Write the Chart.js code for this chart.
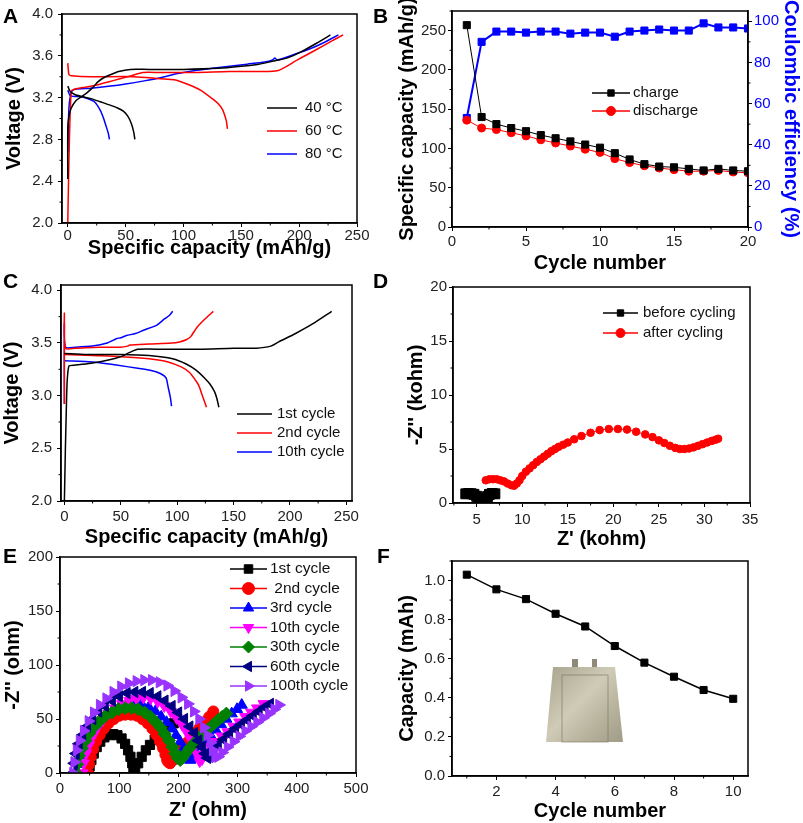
<!DOCTYPE html>
<html>
<head>
<meta charset="utf-8">
<script src="https://cdn.jsdelivr.net/npm/chart.js@4.4.1/dist/chart.umd.min.js"></script>
<style>
html, body { margin: 0; background: #fff; overflow: hidden; }
body { width: 803px; height: 823px; position: relative; }
canvas { position: absolute; }
.tag { position: absolute; font: bold 21px "Liberation Sans", Arial, sans-serif; color: #000; line-height: 24px; }
</style>
</head>
<body>
<canvas id="cA" width="375" height="262" style="left:0;top:0"></canvas>
<canvas id="cB" width="413" height="277" style="left:390px;top:0"></canvas>
<canvas id="cC" width="375" height="281" style="left:0;top:270px"></canvas>
<canvas id="cD" width="413" height="283" style="left:390px;top:270px"></canvas>
<canvas id="cE" width="375" height="278" style="left:0;top:545px"></canvas>
<canvas id="cF" width="413" height="278" style="left:390px;top:545px"></canvas>
<div class="tag" style="left:3px;top:4px">A</div>
<div class="tag" style="left:373px;top:4px">B</div>
<div class="tag" style="left:3px;top:269px">C</div>
<div class="tag" style="left:373px;top:269px">D</div>
<div class="tag" style="left:3px;top:544px">E</div>
<div class="tag" style="left:377px;top:544px">F</div>
<script>
// ---- A: charge/discharge at three temperatures ----
const capA40c = [0, 0, 1, 3, 7, 12, 17, 22, 26, 31, 37, 44, 54, 70, 100, 130, 150, 165, 178, 190, 202, 215, 227];
const vA40c = [2.42, 2.90, 3.02, 3.10, 3.17, 3.21, 3.25, 3.30, 3.35, 3.39, 3.42, 3.45, 3.47, 3.47, 3.47, 3.48, 3.50, 3.52, 3.55, 3.58, 3.64, 3.72, 3.80];
const capA40d = [0, 2, 6, 12, 20, 28, 36, 43, 48, 52, 55, 57, 58];
const vA40d = [3.31, 3.26, 3.23, 3.21, 3.19, 3.16, 3.13, 3.10, 3.07, 3.02, 2.95, 2.87, 2.80];
const capA60c = [0, 1, 3, 6, 15, 25, 35, 45, 55, 65, 80, 110, 140, 170, 182, 186, 200, 215, 228, 238];
const vA60c = [2.00, 2.60, 3.26, 3.28, 3.30, 3.32, 3.35, 3.38, 3.41, 3.44, 3.44, 3.44, 3.45, 3.45, 3.46, 3.48, 3.57, 3.66, 3.74, 3.80];
const capA60d = [0, 1, 3, 20, 57, 80, 92, 103, 115, 126, 131, 134, 137, 138];
const vA60d = [3.53, 3.42, 3.41, 3.40, 3.40, 3.38, 3.37, 3.33, 3.27, 3.18, 3.13, 3.08, 2.98, 2.90];
const capA80c = [0, 1, 3, 6, 20, 37, 50, 66, 80, 95, 110, 125, 140, 155, 170, 177, 179, 181, 195, 210, 222, 234];
const vA80c = [2.68, 3.10, 3.25, 3.28, 3.29, 3.31, 3.33, 3.36, 3.39, 3.43, 3.46, 3.48, 3.50, 3.52, 3.54, 3.56, 3.58, 3.56, 3.61, 3.67, 3.73, 3.80];
const capA80d = [0, 2, 6, 11, 17, 23, 28, 31, 33, 35, 36];
const vA80d = [3.27, 3.22, 3.21, 3.21, 3.19, 3.16, 3.08, 3.00, 2.93, 2.86, 2.80];
const legendA = ['40 °C', '60 °C', '80 °C'];
const ticksAx = [0, 50, 100, 150, 200, 250];
const ticksAy = [2.0, 2.4, 2.8, 3.2, 3.6, 4.0];

// ---- B: cycling ----
const cycleB = [1, 2, 3, 4, 5, 6, 7, 8, 9, 10, 11, 12, 13, 14, 15, 16, 17, 18, 19, 20];
const chargeB = [257, 140, 131, 126, 122, 117, 113, 109, 105, 101, 94, 86, 80, 77, 76, 74, 72, 74, 72, 71];
const dischargeB = [136, 126, 124, 120, 116, 111, 107, 103, 99, 95, 87, 82, 78, 75, 73, 71, 71, 72, 70, 69];
const ceB = [53, 90, 95, 95, 94.5, 95, 95, 94, 94.5, 94.5, 92.5, 95, 95.5, 96, 95.5, 95.5, 99, 97, 97, 96.5];
const legendB = ['charge', 'discharge'];
const ticksBx = [0, 5, 10, 15, 20];
const ticksBy = [0, 50, 100, 150, 200, 250];
const ticksBy2 = [0, 20, 40, 60, 80, 100];

// ---- C: 1st / 2nd / 10th cycle ----
const capC1c = [0, 2, 4, 10, 25, 40, 50, 58, 65, 90, 120, 150, 170, 183, 190, 205, 220, 237];
const vC1c = [2.00, 3.00, 3.28, 3.29, 3.31, 3.34, 3.37, 3.41, 3.44, 3.44, 3.44, 3.45, 3.45, 3.47, 3.51, 3.59, 3.68, 3.80];
const capC1d = [0, 20, 50, 75, 96, 108, 117, 124, 129, 133, 135, 137];
const vC1d = [3.40, 3.39, 3.39, 3.38, 3.35, 3.30, 3.24, 3.17, 3.11, 3.04, 2.98, 2.89];
const capC2c = [0, 0, 1, 10, 30, 50, 56, 58, 75, 95, 102, 108, 112, 117, 123, 128, 132];
const vC2c = [2.92, 3.78, 3.45, 3.45, 3.46, 3.46, 3.47, 3.48, 3.49, 3.50, 3.51, 3.53, 3.56, 3.64, 3.71, 3.76, 3.80];
const capC2d = [0, 25, 50, 75, 92, 104, 111, 116, 119, 123, 126];
const vC2d = [3.39, 3.38, 3.37, 3.35, 3.32, 3.27, 3.22, 3.15, 3.10, 2.98, 2.89];
const capC10c = [0, 0, 1, 10, 25, 38, 46, 50, 55, 63, 70, 82, 89, 93, 96];
const vC10c = [2.92, 3.68, 3.46, 3.46, 3.47, 3.50, 3.54, 3.55, 3.57, 3.59, 3.62, 3.67, 3.73, 3.76, 3.80];
const capC10d = [0, 25, 46, 65, 76, 85, 90, 92, 94, 95];
const vC10d = [3.33, 3.32, 3.29, 3.26, 3.24, 3.21, 3.17, 3.08, 2.98, 2.90];
const legendC = ['1st cycle', '2nd cycle', '10th cycle'];
const ticksCx = [0, 50, 100, 150, 200, 250];
const ticksCy = [2.0, 2.5, 3.0, 3.5, 4.0];

// ---- D: impedance before / after cycling (kohm) ----
const zReD0 = [3.8, 4.1, 4.4, 4.7, 5.0, 5.2, 5.4, 5.6, 5.8, 6.0, 6.2, 6.4, 6.7, 7.0];
const zImD0 = [0.85, 0.88, 0.86, 0.80, 0.62, 0.40, 0.18, 0.08, 0.15, 0.35, 0.60, 0.80, 0.88, 0.85];
const zReD1 = [6.0, 6.4, 6.8, 7.2, 7.6, 8.0, 8.4, 8.8, 9.1, 9.4, 9.7, 10.0, 10.4, 10.8, 11.2, 11.6, 12.0, 12.4, 12.8, 13.2, 13.6, 14.0, 14.5, 15.0, 15.7, 16.5, 17.5, 18.5, 19.5, 20.5, 21.5, 22.5, 23.5, 24.3, 25.0, 25.6, 26.2, 26.8, 27.3, 27.8, 28.3, 28.8, 29.3, 29.8, 30.3, 30.8, 31.2, 31.5];
const zImD1 = [2.1, 2.2, 2.2, 2.2, 2.1, 2.0, 1.8, 1.65, 1.6, 1.8, 2.1, 2.5, 2.9, 3.2, 3.5, 3.8, 4.05, 4.3, 4.55, 4.8, 5.0, 5.2, 5.4, 5.6, 5.9, 6.2, 6.5, 6.75, 6.85, 6.85, 6.8, 6.6, 6.35, 6.1, 5.8, 5.55, 5.3, 5.1, 5.0, 5.0, 5.05, 5.15, 5.3, 5.45, 5.6, 5.75, 5.85, 5.95];
const legendD = ['before cycling', 'after cycling'];
const ticksDx = [5, 10, 15, 20, 25, 30, 35];
const ticksDy = [0, 5, 10, 15, 20];

// ---- E: impedance over cycles (ohm) ----
const zReE1 = [48, 50, 53, 57, 62, 68, 75, 82, 90, 97, 104, 110, 115, 119, 122, 124, 127, 132, 138, 145, 152, 160, 168, 176, 184, 192];
const zImE1 = [0, 6, 12, 18, 24, 29, 33, 35, 36, 35, 32, 27, 21, 15, 9, 5, 5, 9, 15, 21, 26, 31, 35, 39, 43, 46];
const zReE2 = [47, 49, 52, 56, 61, 67, 74, 82, 91, 100, 110, 120, 130, 139, 148, 156, 163, 169, 174, 178, 181, 183, 186, 191, 197, 204, 212, 220, 228, 236, 244, 252, 259];
const zImE2 = [0, 8, 15, 22, 29, 35, 41, 46, 50, 53, 54, 54, 53, 50, 46, 41, 35, 29, 23, 17, 12, 10, 9, 12, 17, 22, 27, 32, 37, 42, 47, 52, 57];
const zReE3 = [30, 32, 35, 40, 46, 53, 61, 70, 80, 91, 102, 114, 126, 138, 150, 161, 171, 180, 189, 196, 203, 209, 213, 217, 220, 224, 230, 237, 245, 254, 263, 272, 281, 290, 299, 307];
const zImE3 = [0, 8, 16, 24, 32, 39, 45, 51, 56, 60, 63, 65, 65, 64, 61, 57, 52, 47, 41, 35, 29, 23, 18, 14, 12, 14, 19, 25, 30, 35, 40, 45, 50, 55, 59, 63];
const zReE10 = [38, 40, 44, 49, 55, 63, 72, 82, 93, 105, 117, 129, 141, 153, 165, 176, 187, 197, 206, 214, 221, 227, 232, 236, 240, 246, 254, 263, 273, 283, 293, 303, 313, 323, 333, 344];
const zImE10 = [0, 9, 18, 26, 34, 42, 49, 55, 60, 64, 67, 69, 70, 69, 66, 62, 57, 51, 45, 38, 31, 24, 17, 11, 13, 18, 24, 29, 34, 38, 43, 47, 52, 56, 60, 64];
const zReE30 = [27, 29, 32, 37, 43, 50, 58, 67, 77, 88, 99, 110, 121, 132, 143, 153, 162, 170, 177, 184, 190, 195, 199, 203, 207, 212, 219, 227, 235, 243, 251, 259, 267, 274, 281];
const zImE30 = [0, 8, 16, 23, 30, 37, 43, 48, 53, 56, 59, 60, 60, 59, 56, 52, 47, 42, 36, 30, 24, 18, 14, 12, 14, 18, 23, 28, 32, 37, 41, 45, 49, 52, 55];
const zReE60 = [22, 24, 27, 32, 38, 46, 55, 65, 76, 88, 100, 113, 126, 139, 152, 165, 177, 189, 200, 210, 219, 227, 234, 240, 245, 249, 253, 259, 267, 276, 286, 296, 306, 316, 326, 336, 346, 355];
const zImE60 = [0, 9, 18, 27, 35, 43, 50, 57, 62, 67, 71, 74, 75, 75, 74, 71, 67, 62, 56, 50, 43, 37, 30, 24, 18, 14, 15, 20, 26, 31, 36, 41, 45, 49, 53, 57, 61, 64];
const zReE100 = [22, 24, 28, 33, 40, 48, 57, 67, 78, 90, 103, 116, 129, 142, 155, 168, 181, 193, 205, 216, 226, 235, 243, 249, 254, 258, 262, 267, 274, 283, 293, 303, 313, 323, 333, 343, 353, 362, 370];
const zImE100 = [0, 10, 21, 30, 39, 48, 56, 63, 69, 75, 80, 83, 85, 86, 86, 84, 81, 76, 70, 64, 57, 50, 42, 35, 28, 21, 15, 15, 19, 24, 29, 34, 39, 43, 47, 51, 55, 59, 63];
const legendE = ['1st cycle', ' 2nd cycle', '3rd cycle', '10th cycle', '30th cycle', '60th cycle', '100th cycle'];
const ticksEx = [0, 100, 200, 300, 400, 500];
const ticksEy = [0, 50, 100, 150, 200];

// ---- F: pouch cell capacity ----
const cycleF = [1, 2, 3, 4, 5, 6, 7, 8, 9, 10];
const capF = [1.03, 0.955, 0.905, 0.83, 0.765, 0.665, 0.58, 0.508, 0.44, 0.395];
const ticksFx = [2, 4, 6, 8, 10];
const ticksFy = [0.0, 0.2, 0.4, 0.6, 0.8, 1.0];

const FONT = '"Liberation Sans", Arial, sans-serif';
Chart.defaults.font.family = FONT;
const RED = '#ff0000', BLUE = '#0000ff', BLACK = '#000000';
const MAGENTA = '#ff00ff', GREEN = '#008000', NAVY = '#000080', PURPLE = '#9933ff';

// box round the plot + minor ticks half way between labelled ones
const framePlugin = {
  id: 'frame',
  afterDraw(chart) {
    const { ctx, chartArea: a } = chart;
    ctx.save();
    ctx.strokeStyle = '#000';
    ctx.lineWidth = 1.5;
    ctx.strokeRect(a.left, a.top, a.right - a.left, a.bottom - a.top);
    ctx.lineWidth = 1;
    Object.values(chart.scales).forEach(s => {
      const t = s.ticks.map(k => k.value);
      if (t.length < 2) return;
      const step = t[1] - t[0];
      for (let v = t[0] - step / 2; v <= s.max + 1e-9; v += step) {
        if (v < s.min - 1e-9) continue;
        const p = s.getPixelForValue(v);
        ctx.beginPath();
        if (s.axis === 'x') { ctx.moveTo(p, a.bottom); ctx.lineTo(p, a.bottom + 2.5); }
        else if (s.position === 'right') { ctx.moveTo(a.right, p); ctx.lineTo(a.right + 2.5, p); }
        else { ctx.moveTo(a.left, p); ctx.lineTo(a.left - 2.5, p); }
        ctx.stroke();
      }
    });
    ctx.restore();
  }
};

// legend drawn inside the plot area
const keyPlugin = {
  id: 'keys',
  afterDraw(chart, args, o) {
    if (!o.labels) return;
    const { ctx, chartArea: a } = chart;
    const sets = chart.data.datasets.filter(d => d.key);
    ctx.save();
    ctx.font = o.font;
    ctx.textBaseline = 'middle';
    o.labels.forEach((text, i) => {
      const d = sets[i];
      const x = a.left + o.x, y = a.top + o.y + i * o.dy;
      ctx.strokeStyle = d.borderColor;
      ctx.lineWidth = 1.5;
      ctx.beginPath(); ctx.moveTo(x, y); ctx.lineTo(x + o.len, y); ctx.stroke();
      if (d.pointRadius) {
        ctx.fillStyle = d.borderColor;
        ctx.lineWidth = 1;
        Chart.helpers.drawPoint(ctx, { pointStyle: d.pointStyle || 'circle', radius: o.r, rotation: d.pointRotation || 0, borderWidth: 1 }, x + o.len / 2, y);
      }
      ctx.fillStyle = '#111';
      ctx.fillText(text, x + o.len + o.gap, y);
    });
    ctx.restore();
  }
};
Chart.register(framePlugin, keyPlugin);

function ax(pos, min, max, ticks, size, title, o = {}) {
  return {
    type: 'linear', position: pos, min: min, max: max,
    afterBuildTicks: s => { s.ticks = ticks.map(v => ({ value: v })); },
    afterFit: s => { if (pos === 'bottom') s.height = size; else s.width = size; },
    grid: { drawOnChartArea: false, drawTicks: true, tickLength: 4, color: '#000', lineWidth: 1 },
    border: { display: true, color: '#000', width: 1.5 },
    ticks: {
      color: o.color || '#222', font: { size: 15 }, padding: o.tpad === undefined ? 3 : o.tpad,
      maxRotation: 0, autoSkip: false,
      callback: v => (o.dec ? v.toFixed(o.dec) : String(v))
    },
    title: {
      display: true, text: title, color: o.color || '#000',
      font: { size: 20, weight: 'bold' },
      padding: { top: o.pad || 0, bottom: o.pad || 0 }
    }
  };
}

function curve(xs, ys, color, o = {}) {
  return Object.assign({
    data: xs.map((x, i) => ({ x: x, y: ys[i] })),
    showLine: true, borderColor: color, backgroundColor: color,
    borderWidth: 1.5, pointRadius: 0, tension: 0.25
  }, o);
}

function make(id, datasets, scales, pad, plugins, local) {
  return new Chart(document.getElementById(id), {
    type: 'scatter',
    data: { datasets: datasets },
    options: {
      responsive: false, animation: false, events: [],
      layout: { padding: pad, autoPadding: false },
      scales: scales,
      plugins: Object.assign({ legend: { display: false }, tooltip: { enabled: false } }, plugins || {})
    },
    plugins: local || []
  });
}

// A
make('cA', [
  curve(capA40c, vA40c, BLACK, { key: true }), curve(capA40d, vA40d, BLACK),
  curve(capA60c, vA60c, RED, { key: true }), curve(capA60d, vA60d, RED),
  curve(capA80c, vA80c, BLUE, { key: true }), curve(capA80d, vA80d, BLUE)
], {
  x: ax('bottom', -5, 250, ticksAx, 39, 'Specific capacity (mAh/g)', { tpad: 0, pad: 2 }),
  y: ax('left', 2.0, 4.0, ticksAy, 62, 'Voltage (V)', { dec: 1, tpad: 5, pad: 2 })
}, { top: 8, right: 18, left: 0, bottom: 0 },
{ keys: { labels: legendA, x: 205, y: 94, dy: 23, len: 30, gap: 8, r: 0, font: '15px ' + FONT } });

// B
const mk = { showLine: true, borderWidth: 1, pointBorderWidth: 1, tension: 0 };
make('cB', [
  curve(cycleB, chargeB, BLACK, Object.assign({ key: true, pointStyle: 'rect', pointRadius: 5 }, mk)),
  curve(cycleB, dischargeB, RED, Object.assign({ key: true, pointStyle: 'circle', pointRadius: 4 }, mk)),
  curve(cycleB, ceB, BLUE, Object.assign({ pointStyle: 'rect', pointRadius: 5, yAxisID: 'y2' }, mk, { borderWidth: 2 }))
], {
  x: ax('bottom', 0, 20, ticksBx, 50, 'Cycle number', { tpad: 2, pad: 2 }),
  y: ax('left', 0, 275, ticksBy, 62, 'Specific capacity (mAh/g)', { tpad: 2, pad: 5 }),
  y2: ax('right', 0, 105, ticksBy2, 55, 'Coulombic efficiency (%)', { tpad: 2, pad: 0, color: BLUE })
}, { top: 10, right: 0, left: 0, bottom: 0 },
{ keys: { labels: legendB, x: 140, y: 82, dy: 18, len: 38, gap: 3, r: 4.5, font: '15px ' + FONT } });

// C
make('cC', [
  curve(capC1c, vC1c, BLACK, { key: true }), curve(capC1d, vC1d, BLACK),
  curve(capC2c, vC2c, RED, { key: true }), curve(capC2d, vC2d, RED),
  curve(capC10c, vC10c, BLUE, { key: true }), curve(capC10d, vC10d, BLUE)
], {
  x: ax('bottom', -3, 255, ticksCx, 50, 'Specific capacity (mAh/g)', { tpad: 3, pad: 2 }),
  y: ax('left', 2.0, 4.05, ticksCy, 61, 'Voltage (V)', { dec: 1, tpad: 5, pad: 0 })
}, { top: 15, right: 23, left: 0, bottom: 0 },
{ keys: { labels: legendC, x: 176, y: 129, dy: 19, len: 35, gap: 5, r: 0, font: '15px ' + FONT } });

// D
make('cD', [
  curve(zReD0, zImD0, BLACK, Object.assign({ key: true, pointStyle: 'rect', pointRadius: 7 }, mk)),
  curve(zReD1, zImD1, RED, Object.assign({ key: true, pointStyle: 'circle', pointRadius: 3.8 }, mk))
], {
  x: ax('bottom', 2.4, 35, ticksDx, 50, "Z' (kohm)", { tpad: 4, pad: 2 }),
  y: ax('left', 0, 20, ticksDy, 63, "-Z'' (kohm)", { tpad: 2, pad: 14 })
}, { top: 17, right: 53, left: 0, bottom: 0 },
{ keys: { labels: legendD, x: 150, y: 26, dy: 20, len: 35, gap: 5, r: 4.5, font: '15px ' + FONT } });

// E: later cycles are drawn over earlier ones
const eStyle = (style, rot, r, ord) => Object.assign({ key: true, pointStyle: style, pointRotation: rot, pointRadius: r, order: ord }, mk);
make('cE', [
  curve(zReE1, zImE1, BLACK, eStyle('rect', 0, 6.5, 6)),
  curve(zReE2, zImE2, RED, eStyle('circle', 0, 5.5, 5)),
  curve(zReE3, zImE3, BLUE, eStyle('triangle', 0, 6.5, 4)),
  curve(zReE10, zImE10, MAGENTA, eStyle('triangle', 180, 6.5, 3)),
  curve(zReE30, zImE30, GREEN, eStyle('rectRot', 0, 6.5, 2)),
  curve(zReE60, zImE60, NAVY, eStyle('triangle', 270, 6.5, 1)),
  curve(zReE100, zImE100, PURPLE, eStyle('triangle', 90, 6.5, 0))
], {
  x: ax('bottom', 0, 500, ticksEx, 50, "Z' (ohm)", { tpad: 3, pad: 1 }),
  y: ax('left', 0, 200, ticksEy, 60, "-Z'' (ohm)", { tpad: 3, pad: 1 })
}, { top: 12, right: 19, left: 0, bottom: 0 },
{ keys: { labels: legendE, x: 170, y: 12, dy: 19.5, len: 37, gap: 3, r: 6, font: '15.5px ' + FONT } });

// F, with a drawn stand-in for the pouch cell photo
const insetPlugin = {
  id: 'inset',
  beforeDatasetsDraw(chart) {
    const ctx = chart.ctx;
    ctx.save();
    ctx.fillStyle = '#8f8a78';
    ctx.fillRect(182, 114, 6, 9);
    ctx.fillRect(202, 114, 5, 9);
    const g = ctx.createLinearGradient(156, 122, 233, 197);
    g.addColorStop(0, '#a7a38d');
    g.addColorStop(0.45, '#cfcbb6');
    g.addColorStop(0.7, '#b9b49e');
    g.addColorStop(1, '#a09b86');
    ctx.fillStyle = g;
    ctx.beginPath();
    ctx.moveTo(163, 122); ctx.lineTo(225, 122); ctx.lineTo(233, 197); ctx.lineTo(156, 197);
    ctx.closePath(); ctx.fill();
    ctx.strokeStyle = 'rgba(120,115,95,0.6)';
    ctx.lineWidth = 1;
    ctx.strokeRect(172, 130, 46, 67);
    ctx.restore();
  }
};
make('cF', [
  curve(cycleF, capF, BLACK, Object.assign({ pointStyle: 'rect', pointRadius: 5 }, mk, { borderWidth: 1.5 }))
], {
  x: ax('bottom', 0.5, 10.5, ticksFx, 47, 'Cycle number', { tpad: 3, pad: 0 }),
  y: ax('left', 0, 1.1, ticksFy, 62, 'Capacity (mAh)', { dec: 1, tpad: 3, pad: 5 })
}, { top: 16, right: 55, left: 0, bottom: 0 }, {}, [insetPlugin]);
</script>
</body>
</html>
